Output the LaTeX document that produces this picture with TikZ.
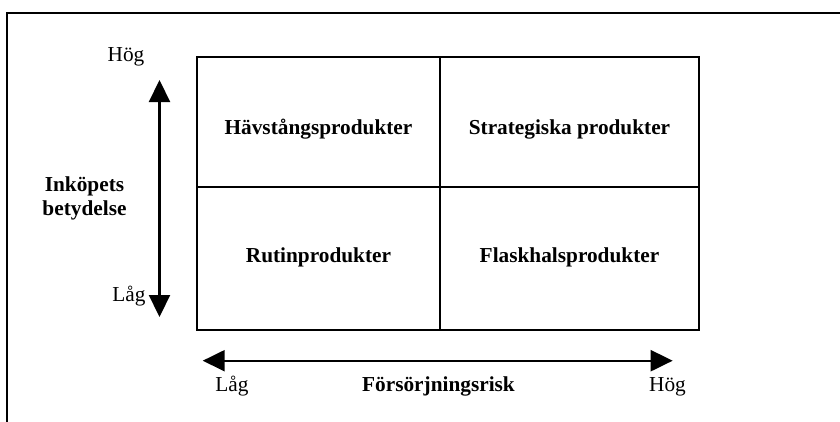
\documentclass[tikz,border=0pt]{standalone}
\usepackage{fontspec}
\setmainfont{Liberation Serif}
\usetikzlibrary{arrows.meta}
\begin{document}
\begin{tikzpicture}[x=1pt,y=-1pt,
  lbl/.style={font=\fontsize{21.3}{24}\selectfont, inner sep=0pt, anchor=base},
  blbl/.style={font=\fontsize{21.3}{24}\selectfont\bfseries, inner sep=0pt, anchor=base},
  grid/.style={line width=1.5pt},
  axis/.style={line width=2.2pt, {Triangle[length=22pt,width=21pt]}-{Triangle[length=22pt,width=21pt]}}]
\useasboundingbox (0,0) rectangle (840,421);
\clip (0,0) rectangle (840,421);
\fill[white] (0,0) rectangle (840,421);
% frame
\draw[line width=2pt] (7,440) -- (7,13) -- (860,13);
% grid
\coordinate (gtl) at (197,57);
\coordinate (gbr) at (699,330);
\draw[grid] (gtl) rectangle (gbr);
\coordinate (vtp) at (440,57);
\coordinate (vbp) at (440,330);
\coordinate (hlp) at (197,187);
\coordinate (hrp) at (699,187);
\draw[grid] (vtp) -- (vbp);
\draw[grid] (hlp) -- (hrp);
% cell labels
\node[blbl] (c1) at (318.5,134) {Hävstångsprodukter};
\node[blbl] (c2) at (569.5,134) {Strategiska produkter};
\node[blbl] (c3) at (318.5,262) {Rutinprodukter};
\node[blbl] (c4) at (569.5,262) {Flaskhalsprodukter};
% vertical axis
\coordinate (vtop) at (159.5,80);
\coordinate (vbot) at (159.5,317);
\draw[axis] (vtop) -- (vbot);
\node[lbl] (vh) at (126,61.5) {Hög};
\node[lbl] (vl) at (129,301) {Låg};
\node[font=\fontsize{21.3}{24}\selectfont\bfseries, align=center, inner sep=0pt] (vtitle) at (84.5,198) {Inköpets\\betydelse};
% horizontal axis
\coordinate (hleft) at (202.7,360.7);
\coordinate (hright) at (672.7,360.7);
\draw[axis] (hleft) -- (hright);
\node[lbl] (hlo) at (232,391) {Låg};
\node[blbl] (ht) at (438.5,391) {Försörjningsrisk};
\node[lbl] (hhi) at (667.5,391) {Hög};
\end{tikzpicture}
\end{document}
